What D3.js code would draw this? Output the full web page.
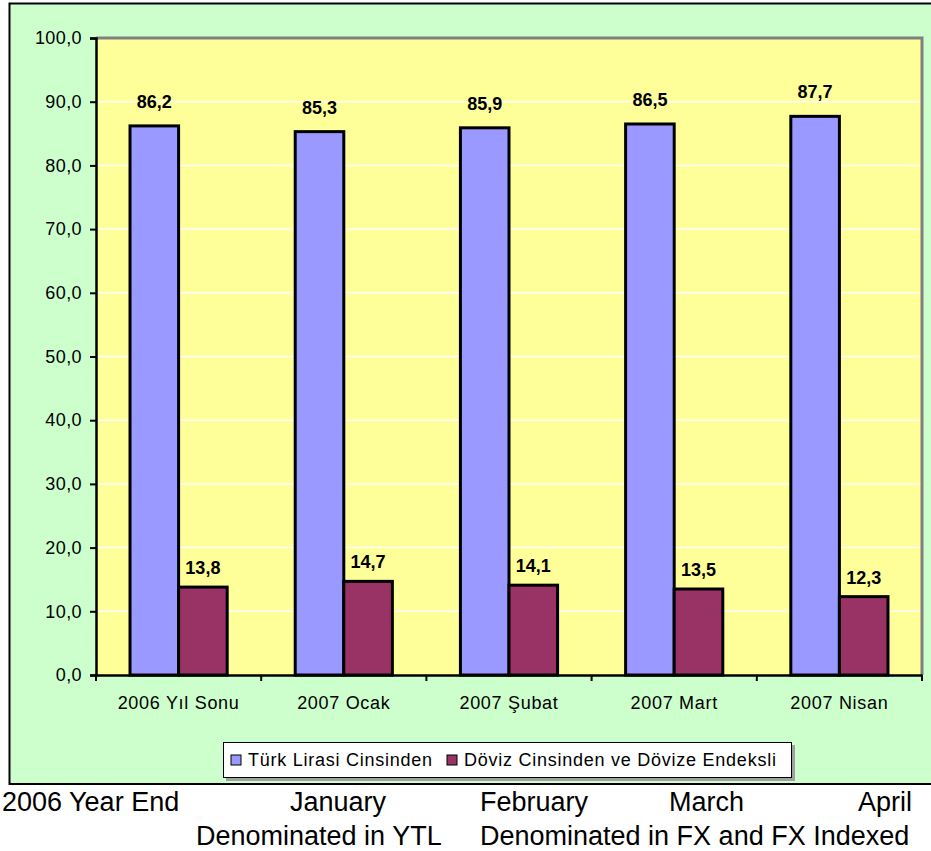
<!DOCTYPE html>
<html>
<head>
<meta charset="utf-8">
<script src="https://cdn.jsdelivr.net/npm/d3@7"></script>
<style>
  html, body { margin: 0; padding: 0; background: #ffffff; }
  svg { display: block; }
  text { font-family: "Liberation Sans", Arial, sans-serif; fill: #000; }
</style>
</head>
<body>
<svg id="chart" width="931" height="851"></svg>
<script>
// Loan composition by currency (%), year end 2006 and first months of 2007
const categories = ["2006 Yıl Sonu", "2007 Ocak", "2007 Şubat", "2007 Mart", "2007 Nisan"];
const tlValues = [86.2, 85.3, 85.9, 86.5, 87.7];
const fxValues = [13.8, 14.7, 14.1, 13.5, 12.3];
const seriesNames = ["Türk Lirasi Cinsinden", "Döviz Cinsinden ve Dövize Endeksli"];
const yTicks = [0, 10, 20, 30, 40, 50, 60, 70, 80, 90, 100];
const englishMonths = ["2006 Year End", "January", "February", "March", "April"];
const englishSeries = ["Denominated in YTL", "Denominated in FX and FX Indexed"];

const colors = ["#9999ff", "#993366"];
const series = [tlValues, fxValues];

const svg = d3.select("#chart");
const fmt = v => d3.format(".1f")(v).replace(".", ",");

// Outer chart panel
svg.append("rect")
  .attr("x", 9.5).attr("y", 3.5).attr("width", 940).attr("height", 780.5)
  .attr("fill", "#ccffcc").attr("stroke", "#000").attr("stroke-width", 2);

const plot = { left: 96, right: 922, top: 38, bottom: 675 };

const x = d3.scaleBand().domain(categories).range([plot.left, plot.right]).padding(0);
const xs = d3.scaleBand().domain([0, 1]).range([0, x.bandwidth()]).paddingInner(0).paddingOuter(0.7);
const y = d3.scaleLinear().domain([0, 100]).range([plot.bottom, plot.top]);

// Plot area
svg.append("rect")
  .attr("x", plot.left).attr("y", plot.top)
  .attr("width", plot.right - plot.left).attr("height", plot.bottom - plot.top)
  .attr("fill", "#ffff99");

// Gridlines
svg.append("g")
  .selectAll("line")
  .data(yTicks.filter(d => d > 0 && d < 100))
  .join("line")
  .attr("x1", plot.left).attr("x2", plot.right)
  .attr("y1", d => y(d)).attr("y2", d => y(d))
  .attr("stroke", "#ffffff").attr("stroke-width", 1.5);

// Plot area border (top and right visible)
svg.append("path")
  .attr("d", `M${plot.left},${plot.top} H${plot.right} V${plot.bottom}`)
  .attr("fill", "none").attr("stroke", "#808080").attr("stroke-width", 3);

// Bars
series.forEach((vals, si) => {
  svg.append("g")
    .selectAll("rect")
    .data(categories)
    .join("rect")
    .attr("x", d => x(d) + xs(si))
    .attr("y", (d, i) => y(vals[i]))
    .attr("width", xs.bandwidth())
    .attr("height", (d, i) => y(0) - y(vals[i]))
    .attr("fill", colors[si])
    .attr("stroke", "#000").attr("stroke-width", 3);
});

// Value labels
series.forEach((vals, si) => {
  svg.append("g")
    .selectAll("text")
    .data(categories)
    .join("text")
    .attr("x", d => x(d) + xs(si) + xs.bandwidth() / 2)
    .attr("y", (d, i) => y(vals[i]) - (si === 0 ? 18 : 13))
    .attr("text-anchor", "middle")
    .attr("font-size", 18).attr("font-weight", "bold")
    .attr("fill", "#222")
    .text((d, i) => fmt(vals[i]));
});

// Y axis
const yAxis = svg.append("g")
  .attr("transform", `translate(${plot.left},0)`)
  .call(d3.axisLeft(y).tickValues(yTicks).tickSize(6).tickPadding(8).tickFormat(fmt));
yAxis.select(".domain").attr("stroke", "#000").attr("stroke-width", 2.5);
yAxis.selectAll(".tick line").attr("stroke", "#000").attr("stroke-width", 2);
yAxis.selectAll(".tick text")
  .attr("font-family", "Liberation Sans, Arial, sans-serif")
  .attr("font-size", 18).attr("letter-spacing", 0.4).attr("fill", "#222");

// X axis
const xAxis = svg.append("g")
  .attr("transform", `translate(0,${plot.bottom})`)
  .call(d3.axisBottom(x).tickSize(0).tickPadding(21));
xAxis.select(".domain").attr("stroke", "#000").attr("stroke-width", 2.5);
xAxis.selectAll(".tick text")
  .attr("font-family", "Liberation Sans, Arial, sans-serif")
  .attr("font-size", 18).attr("letter-spacing", 0.7).attr("fill", "#222");
// Category boundary ticks
svg.append("g")
  .selectAll("line")
  .data(d3.range(categories.length + 1))
  .join("line")
  .attr("x1", i => plot.left + i * x.step()).attr("x2", i => plot.left + i * x.step())
  .attr("y1", plot.bottom).attr("y2", plot.bottom + 6)
  .attr("stroke", "#000").attr("stroke-width", 2);

// Legend
const legend = svg.append("g");
legend.append("rect")
  .attr("x", 226).attr("y", 745).attr("width", 569).attr("height", 36)
  .attr("fill", "#a0a0a0");
legend.append("rect")
  .attr("x", 223.5).attr("y", 742.5).attr("width", 568).attr("height", 35)
  .attr("fill", "#fff").attr("stroke", "#000").attr("stroke-width", 1);
const legendX = [231, 447];
seriesNames.forEach((name, i) => {
  legend.append("rect")
    .attr("x", legendX[i]).attr("y", 755).attr("width", 10).attr("height", 10)
    .attr("fill", colors[i]).attr("stroke", "#000").attr("stroke-width", 1);
  legend.append("text")
    .attr("x", legendX[i] + 17).attr("y", 766)
    .attr("font-size", 18).attr("letter-spacing", 0.75).attr("fill", "#222")
    .text(name);
});

// English captions below the chart
const monthX = [2, 290, 480, 669, 858];
svg.append("g")
  .selectAll("text")
  .data(englishMonths)
  .join("text")
  .attr("x", (d, i) => monthX[i]).attr("y", 811)
  .attr("font-size", 27)
  .text(d => d);
const seriesX = [196, 480];
svg.append("g")
  .selectAll("text")
  .data(englishSeries)
  .join("text")
  .attr("x", (d, i) => seriesX[i]).attr("y", 845)
  .attr("font-size", 27)
  .text(d => d);
</script>
</body>
</html>
